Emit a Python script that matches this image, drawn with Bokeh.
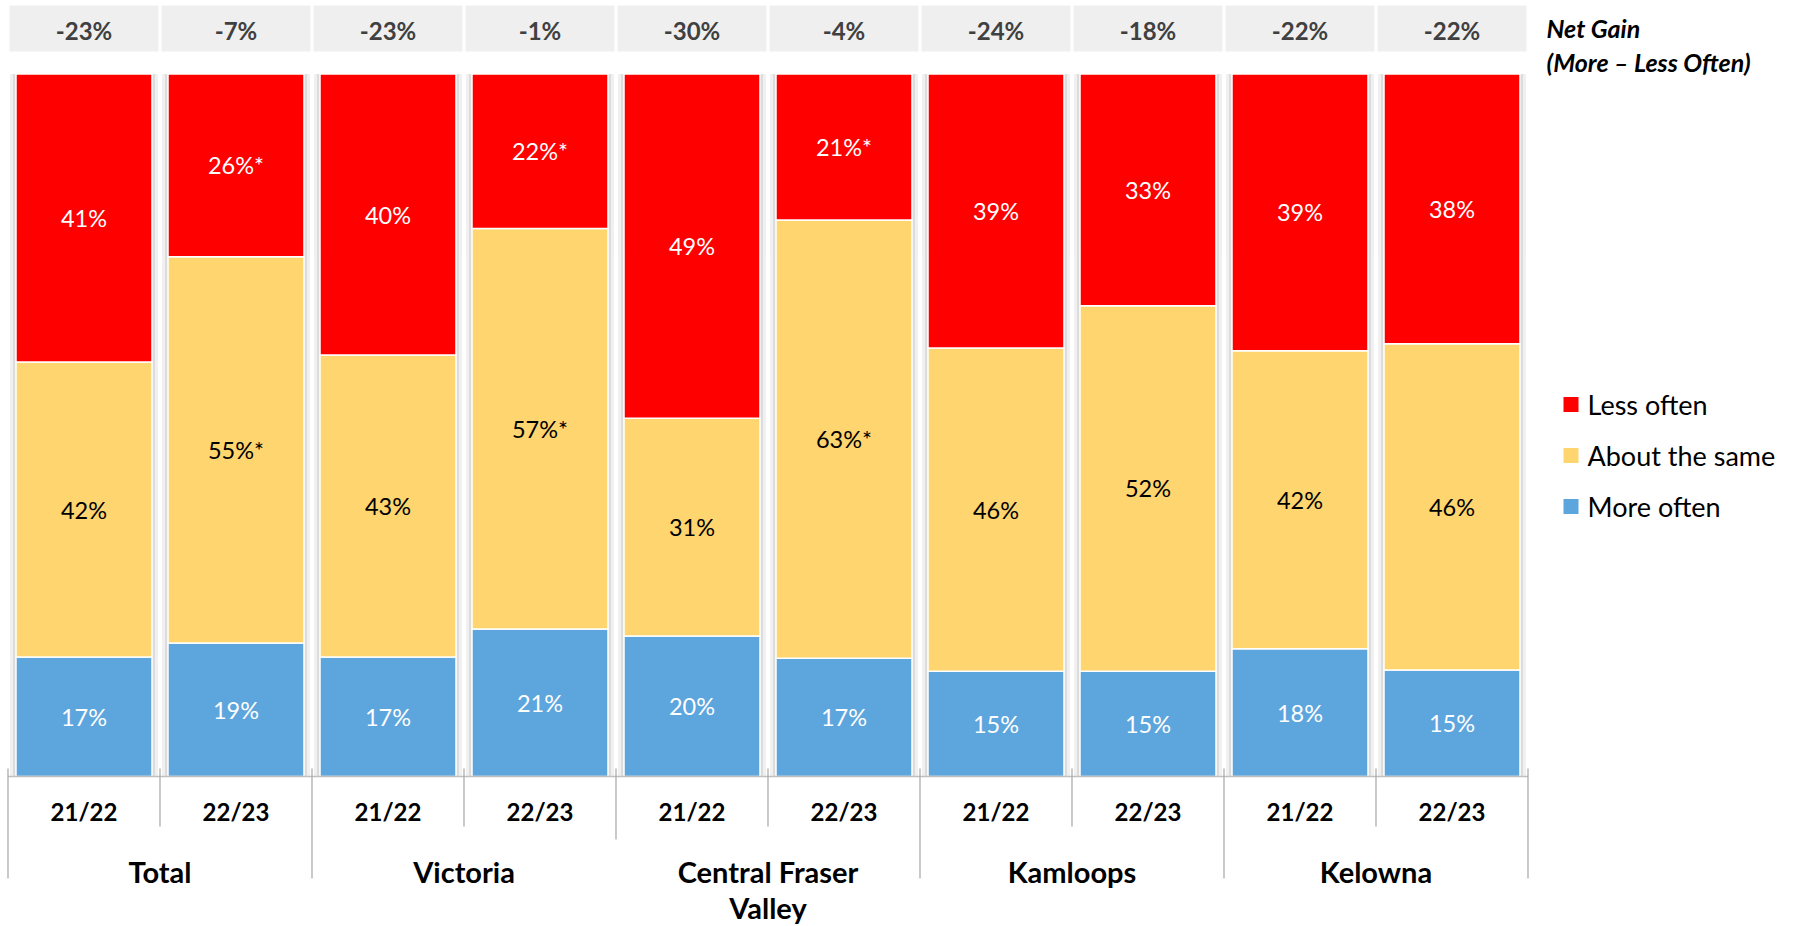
import numpy as np
from bokeh.plotting import figure
from bokeh.models import Range1d
from bokeh.core.properties import value
from bokeh.embed import file_html
from bokeh.resources import INLINE

# ---------------- data ----------------
GROUPS = ["Total", "Victoria", "Central Fraser Valley", "Kamloops", "Kelowna"]
PERIODS = ["21/22", "22/23"]
LESS_OFTEN = [41, 26, 40, 22, 49, 21, 39, 33, 39, 38]
ABOUT_SAME = [42, 55, 43, 57, 31, 63, 46, 52, 42, 46]
MORE_OFTEN = [17, 19, 17, 21, 20, 17, 15, 15, 18, 15]
LESS_SIG = [0, 1, 0, 1, 0, 1, 0, 0, 0, 0]
SAME_SIG = [0, 1, 0, 1, 0, 1, 0, 0, 0, 0]
MORE_SIG = [0, 0, 0, 0, 0, 0, 0, 0, 0, 0]
NET_GAIN = [-23, -7, -23, -1, -30, -4, -24, -18, -22, -22]
SERIES = ["Less often", "About the same", "More often"]
NET_TITLE = ["Net Gain", "(More \u2013 Less Often)"]
GROUP_WRAP = {"Central Fraser Valley": "Central Fraser\nValley"}

# ---------------- layout helpers ----------------
FIG_W, FIG_H = 1790, 925
OFF = 0
PITCH = 152.0
X0 = 7.5
Y0 = 776.0
PXU = 7.025

def xr(px):
    return (px - X0) / PITCH

def yr(py):
    return (Y0 - py) / PXU

RED, YEL, BLU = "#FF0000", "#FFD56F", "#5CA5DD"
FONT = value("Lato")

p = figure(width=FIG_W, height=FIG_H,
           x_range=Range1d(xr(OFF), xr(OFF + FIG_W)),
           y_range=Range1d(yr(OFF + FIG_H), yr(OFF)),
           output_backend="svg", toolbar_location=None,
           x_axis_location=None, y_axis_location=None,
           min_border=0, outline_line_color=None)
p.grid.visible = False
p.background_fill_color = "white"
p.border_fill_color = "white"

n = len(LESS_OFTEN)
xc = np.arange(n) + 0.5
less = np.array(LESS_OFTEN, float)
same = np.array(ABOUT_SAME, float)
more = np.array(MORE_OFTEN, float)
tot = less + same + more
more_n = more * 100 / tot
same_n = same * 100 / tot

bw = 136 / PITCH
# soft shadow
p.vbar(x=xc, width=(136 + 12) / PITCH, bottom=0, top=100, fill_color="#F0F0F0", line_color=None)
p.vbar(x=xc, width=(136 + 6) / PITCH, bottom=0, top=100, fill_color="#DCDCDC", line_color=None)

b1 = more_n
b2 = more_n + same_n
p.vbar(x=xc, width=bw, bottom=0, top=b1, fill_color=BLU, line_color="white", line_width=1.5)
p.vbar(x=xc, width=bw, bottom=b1, top=b2, fill_color=YEL, line_color="white", line_width=1.5)
p.vbar(x=xc, width=bw, bottom=b2, top=100, fill_color=RED, line_color="white", line_width=1.5)

def lbl(vals, sig):
    return [f"{v}%" + ("*" if s else "") for v, s in zip(vals, sig)]

common = dict(text_align="center", text_baseline="middle", text_font=FONT, text_font_size="23.5px")
p.text(x=xc, y=b1 / 2, text=lbl(MORE_OFTEN, MORE_SIG), text_color="white", **common)
p.text(x=xc, y=(b1 + b2) / 2, text=lbl(ABOUT_SAME, SAME_SIG), text_color="black", **common)
p.text(x=xc, y=(b2 + 100) / 2, text=lbl(LESS_OFTEN, LESS_SIG), text_color="white", **common)

# net gain boxes
p.rect(x=xc, y=(yr(5) + yr(51)) / 2, width=149 / PITCH, height=yr(5) - yr(51),
       fill_color="#EFEFEF", line_color=None)
p.text(x=xc, y=[yr(30)] * n, text=[f"{v}%" for v in NET_GAIN], text_align="center",
       text_baseline="middle", text_font=FONT, text_font_size="24px",
       text_font_style="bold", text_color="#404040")

# net gain title
p.text(x=[xr(1546)] * 2, y=[yr(27), yr(61)], text=NET_TITLE, text_align="left",
       text_baseline="middle", text_font=FONT, text_font_size="25px",
       text_font_style="bold italic", text_color="black")

# category axis (Excel style)
p.segment(x0=[0], y0=[0], x1=[n], y1=[0], line_color="#BFBFBF", line_width=1.5)
bounds = np.arange(n + 1)
ends = []
for b in bounds:
    if b % 2 == 1:
        ends.append(yr(826))
    elif b == 4:
        ends.append(yr(839))
    else:
        ends.append(yr(878))
p.segment(x0=bounds, y0=[yr(768)] * len(bounds), x1=bounds, y1=ends,
          line_color="#A6A6A6", line_width=1.2)

sub_labels = PERIODS * len(GROUPS)
p.text(x=xc, y=[yr(811)] * n, text=sub_labels, text_align="center", text_baseline="middle",
       text_font=FONT, text_font_size="24px", text_font_style="bold", text_color="black")
gx = np.arange(len(GROUPS)) * 2 + 1.0
p.text(x=gx, y=[yr(853)] * len(GROUPS), text=[GROUP_WRAP.get(g, g) for g in GROUPS],
       text_align="center", text_baseline="top", text_line_height=1.05,
       text_font=FONT, text_font_size="29px", text_font_style="bold", text_color="black")

# legend
ly = [yr(404), yr(455), yr(506)]
p.scatter(x=[xr(1570.5)] * 3, y=ly, marker="square", size=15,
          fill_color=[RED, YEL, BLU], line_color=None)
p.text(x=[xr(1587)] * 3, y=ly, text=SERIES, text_align="left", text_baseline="middle",
       text_font=FONT, text_font_size="27px", text_color="black")

open("out.html", "w").write(file_html(p, INLINE))
